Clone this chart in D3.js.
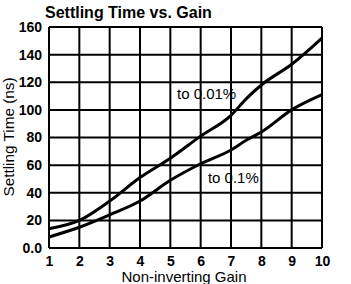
<!DOCTYPE html>
<html>
<head>
<meta charset="utf-8">
<script src="https://cdn.jsdelivr.net/npm/d3@7"></script>
<style>
  body { margin: 0; background: #fff; }
  text { font-family: "Liberation Sans", Arial, sans-serif; fill: #000; }
</style>
</head>
<body>
<div id="drawArea"></div>
<script>
// gain values (x) and settling times (ns)
var gain = [1, 2, 3, 4, 5, 6, 7, 7.5, 8, 9, 10];
var settle001 = [14, 20, 34, 51, 65, 81, 96, 108, 118, 133, 152];
var settle01 = [8, 15, 24, 34, 49, 61, 71, 78, 84, 100, 111];
var xTicks = [1, 2, 3, 4, 5, 6, 7, 8, 9, 10];
var yTicks = [0, 20, 40, 60, 80, 100, 120, 140, 160];

var margin = {top: 27, right: 29, bottom: 36, left: 49},
  width = 351 - margin.left - margin.right,
  height = 284 - margin.top - margin.bottom;

var svg = d3.select("#drawArea")
  .append("svg")
  .attr("width", 351)
  .attr("height", 284);

var g = svg.append("g")
  .attr("transform", "translate(" + margin.left + "," + margin.top + ")");

var x = d3.scaleLinear().domain([1, 10]).range([0, width]);
var y = d3.scaleLinear().domain([0, 160]).range([height, 0]);

// grid
g.selectAll(".vg").data(xTicks).enter().append("line")
  .attr("x1", function(d){ return x(d); }).attr("x2", function(d){ return x(d); })
  .attr("y1", 0).attr("y2", height)
  .attr("stroke", "#000").attr("stroke-width", 2);
g.selectAll(".hg").data(yTicks).enter().append("line")
  .attr("y1", function(d){ return y(d); }).attr("y2", function(d){ return y(d); })
  .attr("x1", 0).attr("x2", width)
  .attr("stroke", "#000").attr("stroke-width", 2);

// axes (labels only)
var xAxis = g.append("g")
  .attr("transform", "translate(0," + height + ")")
  .call(d3.axisBottom(x).tickValues(xTicks).tickSize(0).tickPadding(8));
var yAxis = g.append("g")
  .call(d3.axisLeft(y).tickValues(yTicks).tickSize(0).tickPadding(7)
    .tickFormat(function(d){ return d === 0 ? "0.0" : d; }));
[xAxis, yAxis].forEach(function(a){
  a.select(".domain").remove();
  a.selectAll("text").attr("font-size", 14).attr("font-weight", "bold")
    .attr("font-family", "Liberation Sans, Arial, sans-serif");
});

// curves
var line = d3.line()
  .x(function(d){ return x(d[0]); })
  .y(function(d){ return y(d[1]); })
  .curve(d3.curveMonotoneX);

[settle001, settle01].forEach(function(s){
  g.append("path")
    .datum(gain.map(function(v, i){ return [v, s[i]]; }))
    .attr("fill", "none").attr("stroke", "#000").attr("stroke-width", 3)
    .attr("d", line);
});

// labels
g.append("text").attr("x", x(5.22)).attr("y", y(108)).attr("font-size", 15).text("to 0.01%");
g.append("text").attr("x", x(6.24)).attr("y", y(47)).attr("font-size", 15).text("to 0.1%");

svg.append("text").attr("x", 45).attr("y", 18).attr("font-size", 16)
  .attr("font-weight", "bold").text("Settling Time vs. Gain");
svg.append("text").attr("x", 184).attr("y", 282).attr("font-size", 15)
  .attr("text-anchor", "middle").text("Non-inverting Gain");
svg.append("text").attr("transform", "translate(14,137) rotate(-90)")
  .attr("font-size", 15).attr("text-anchor", "middle")
  .attr("textLength", 119).attr("lengthAdjust", "spacingAndGlyphs")
  .text("Settling Time (ns)");
</script>
</body>
</html>
